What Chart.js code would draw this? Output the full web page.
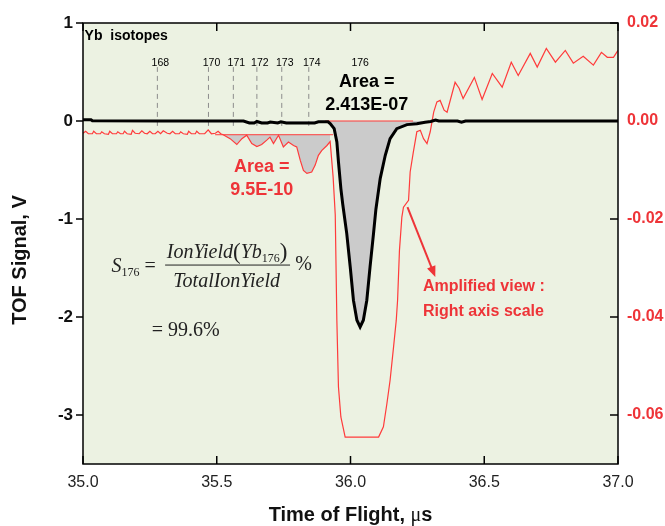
<!DOCTYPE html>
<html>
<head>
<meta charset="utf-8">
<script src="https://cdn.jsdelivr.net/npm/chart.js@4.4.1/dist/chart.umd.min.js"></script>
<style>
  body { margin: 0; background: #fff; }
  #wrap { width: 665px; height: 526px; position: relative; }
</style>
</head>
<body>
<div id="wrap"><canvas id="tofChart"></canvas></div>
<script>
// axes
const xTicks = [35.0, 35.5, 36.0, 36.5, 37.0];
const leftTicks = [1, 0, -1, -2, -3];
const rightTicks = [0.02, 0.00, -0.02, -0.04, -0.06];

// isotope markers (mass, arrival time in us)
const isotopeMasses = ['168', '170', '171', '172', '173', '174', '176'];
const isotopeTimes = [35.278, 35.469, 35.562, 35.650, 35.743, 35.844, 36.025];

// TOF signal, left axis (V)
const signalTime = [35.000, 35.030, 35.035, 35.300, 35.600, 35.622, 35.640, 35.650, 35.668, 35.690,
  35.700, 35.728, 35.740, 35.760, 35.772, 35.800, 35.840, 35.866, 35.880, 35.916,
  35.924, 35.939, 35.949, 35.955, 35.964, 35.971, 35.986, 35.999, 36.011, 36.024,
  36.036, 36.048, 36.061, 36.073, 36.086, 36.095, 36.111, 36.130, 36.148, 36.173,
  36.211, 36.248, 36.279, 36.300, 36.318, 36.330, 36.400, 36.415, 36.430, 36.600, 37.000];
const signalV = [0.012, 0.012, 0.002, 0.000, 0.000, -0.020, -0.020, -0.005, -0.020, -0.020,
  -0.010, -0.020, -0.008, -0.020, -0.020, -0.020, -0.020, -0.020, -0.008, -0.008,
  -0.027, -0.078, -0.214, -0.418, -0.690, -0.850, -1.149, -1.490, -1.829, -2.033,
  -2.102, -2.033, -1.829, -1.490, -1.149, -0.900, -0.588, -0.350, -0.180, -0.078,
  -0.037, -0.027, -0.012, -0.005, 0.010, 0.000, 0.000, -0.012, 0.000, 0.000, 0.000];

// amplified view, right axis (V)
const ampTime = [35.000, 35.010, 35.020, 35.035, 35.040, 35.050, 35.065, 35.070, 35.080, 35.095,
  35.100, 35.110, 35.125, 35.130, 35.140, 35.150, 35.155, 35.165, 35.180, 35.185,
  35.195, 35.210, 35.220, 35.230, 35.240, 35.250, 35.260, 35.270, 35.280, 35.290,
  35.300, 35.315, 35.325, 35.335, 35.345, 35.360, 35.365, 35.375, 35.390, 35.395,
  35.405, 35.420, 35.425, 35.435, 35.455, 35.468, 35.480, 35.495, 35.505, 35.515,
  35.524, 35.550, 35.575, 35.594, 35.612, 35.631, 35.650, 35.668, 35.687, 35.699,
  35.712, 35.731, 35.749, 35.768, 35.787, 35.799, 35.812, 35.824, 35.837, 35.855,
  35.868, 35.880, 35.893, 35.912, 35.924, 35.935, 35.943, 35.949, 35.955, 35.964,
  35.980, 36.105, 36.123, 36.136, 36.148, 36.161, 36.171, 36.176, 36.183, 36.192,
  36.198, 36.217, 36.223, 36.235, 36.248, 36.261, 36.273, 36.286, 36.298, 36.311,
  36.323, 36.335, 36.350, 36.361, 36.391, 36.406, 36.421, 36.463, 36.492, 36.530,
  36.567, 36.601, 36.627, 36.672, 36.698, 36.732, 36.766, 36.803, 36.833, 36.870,
  36.908, 36.938, 36.960, 36.983, 37.000];
const ampV = [-0.0025, -0.0021, -0.0026, -0.0026, -0.0021, -0.0026, -0.0026, -0.0022, -0.0026, -0.0027,
  -0.0021, -0.0026, -0.0026, -0.0022, -0.0026, -0.0026, -0.0021, -0.0026, -0.0027, -0.0019,
  -0.0025, -0.0026, -0.0020, -0.0025, -0.0026, -0.0021, -0.0026, -0.0026, -0.0021, -0.0026,
  -0.0020, -0.0025, -0.0026, -0.0021, -0.0026, -0.0026, -0.0022, -0.0026, -0.0027, -0.0021,
  -0.0026, -0.0026, -0.0021, -0.0026, -0.0026, -0.0018, -0.0026, -0.0025, -0.0021, -0.0026,
  -0.0028, -0.0036, -0.0048, -0.0036, -0.0029, -0.0046, -0.0052, -0.0048, -0.0039, -0.0033,
  -0.0046, -0.0029, -0.0053, -0.0043, -0.0050, -0.0053, -0.0080, -0.0101, -0.0107, -0.0104,
  -0.0090, -0.0070, -0.0060, -0.0050, -0.0042, -0.0114, -0.0192, -0.0407, -0.0543, -0.0604,
  -0.0645, -0.0645, -0.0624, -0.0577, -0.0529, -0.0461, -0.0407, -0.0366, -0.0264, -0.0196,
  -0.0176, -0.0162, -0.0104, -0.0063, -0.0022, -0.0019, -0.0036, -0.0046, -0.0022, 0.0018,
  0.0039, 0.0042, 0.0022, 0.0018, 0.0079, 0.0067, 0.0046, 0.0089, 0.0044, 0.0097,
  0.0069, 0.0120, 0.0093, 0.0138, 0.0110, 0.0148, 0.0120, 0.0144, 0.0118, 0.0132,
  0.0114, 0.0140, 0.0130, 0.0130, 0.0144];

// integration windows
const mainWindow = [35.905, 36.234];      // 176 peak, baseline 0 V
const minorWindow = [35.494, 35.935];     // other isotopes, baseline below
const minorBaseline = -0.0028;
const mainArea = '2.413E-07';
const minorArea = '9.5E-10';
const purity = '99.6%';

const RED = '#ff3b3b';
const TXT_RED = '#ee3438';
const SANS = '"Liberation Sans", Arial, sans-serif';
const SERIF = '"Liberation Serif", "Times New Roman", serif';

const signalPts = signalTime.map((t, i) => ({ x: t, y: signalV[i] }));
const ampPts = ampTime.map((t, i) => ({ x: t, y: ampV[i] }));
const minorFillPts = ampPts.filter(p => p.x >= 35.52 && p.x <= 35.925);

const isoLines = isotopeTimes.slice(0, 6).map(t => ({
  data: [{ x: t, y: -0.05 }, { x: t, y: 0.55 }],
  yAxisID: 'y',
  borderColor: '#8c8c8c',
  borderWidth: 1,
  borderDash: [5, 4],
  pointRadius: 0,
  fill: false,
  order: 9
}));

const decor = {
  id: 'decor',
  beforeDraw(chart) {
    const { ctx, chartArea: a } = chart;
    ctx.save();
    ctx.fillStyle = '#ecf2e2';
    ctx.fillRect(a.left, a.top, a.right - a.left, a.bottom - a.top);
    ctx.restore();
  },
  afterDatasetsDraw(chart) {
    const { ctx, scales } = chart;
    const px = v => scales.x.getPixelForValue(v);
    const py = v => scales.y.getPixelForValue(v);
    ctx.save();
    ctx.textBaseline = 'middle';

    ctx.fillStyle = '#000';
    ctx.textAlign = 'left';
    ctx.font = 'bold 14px ' + SANS;
    ctx.fillText('Yb  isotopes', px(35.006), py(0.864));

    ctx.textAlign = 'center';
    ctx.font = '10.5px ' + SANS;
    isotopeMasses.forEach((m, i) => ctx.fillText(m, px(isotopeTimes[i]) + 3, py(0.586)));

    ctx.font = 'bold 18px ' + SANS;
    ctx.fillText('Area =', px(36.061), py(0.398));
    ctx.fillText(mainArea, px(36.061), py(0.160));

    ctx.fillStyle = TXT_RED;
    ctx.fillText('Area =', px(35.668), py(-0.469));
    ctx.fillText(minorArea, px(35.668), py(-0.700));

    ctx.textAlign = 'left';
    ctx.font = 'bold 16px ' + SANS;
    ctx.fillText('Amplified view :', px(36.271), py(-1.694));
    ctx.fillText('Right axis scale', px(36.271), py(-1.949));

    // arrow
    const x0 = px(36.213), y0 = py(-0.878), x1 = px(36.317), y1 = py(-1.592);
    const ang = Math.atan2(y1 - y0, x1 - x0);
    ctx.strokeStyle = TXT_RED;
    ctx.lineWidth = 2;
    ctx.beginPath();
    ctx.moveTo(x0, y0);
    ctx.lineTo(x1 - 8 * Math.cos(ang), y1 - 8 * Math.sin(ang));
    ctx.stroke();
    ctx.beginPath();
    ctx.moveTo(x1, y1);
    ctx.lineTo(x1 - 11 * Math.cos(ang) + 4.5 * Math.sin(ang), y1 - 11 * Math.sin(ang) - 4.5 * Math.cos(ang));
    ctx.lineTo(x1 - 11 * Math.cos(ang) - 4.5 * Math.sin(ang), y1 - 11 * Math.sin(ang) + 4.5 * Math.cos(ang));
    ctx.closePath();
    ctx.fillStyle = TXT_RED;
    ctx.fill();

    // selectivity formula
    ctx.fillStyle = '#222';
    ctx.textBaseline = 'alphabetic';
    const it = 'italic 20px ' + SERIF, up = '20px ' + SERIF, sub = '12px ' + SERIF, par = '23px ' + SERIF;
    const runs = (x, y, parts) => {
      parts.forEach(([t, f, dy]) => {
        ctx.font = f;
        ctx.fillText(t, x, y + (dy || 0));
        x += ctx.measureText(t).width;
      });
      return x;
    };
    runs(px(35.107), py(-1.540), [['S', it], ['176', sub, 4], [' =', up]]);
    runs(px(35.313), py(-1.400), [['IonYield', it], ['(', par, 1], ['Yb', it], ['176', sub, 4], [')', par, 1]]);
    ctx.font = it;
    ctx.textAlign = 'center';
    ctx.fillText('TotalIonYield', px(35.537), py(-1.690));
    ctx.textAlign = 'left';
    ctx.font = up;
    ctx.fillText('%', px(35.793), py(-1.520));
    ctx.fillText('= ' + purity, px(35.257), py(-2.194));
    ctx.strokeStyle = '#222';
    ctx.lineWidth = 1;
    ctx.beginPath();
    ctx.moveTo(px(35.307), py(-1.470));
    ctx.lineTo(px(35.774), py(-1.470));
    ctx.stroke();
    ctx.restore();
  },
  afterDraw(chart) {
    const { ctx, chartArea: a, scales } = chart;
    const seg = (x0, y0, x1, y1) => { ctx.beginPath(); ctx.moveTo(x0, y0); ctx.lineTo(x1, y1); ctx.stroke(); };
    ctx.save();
    ctx.strokeStyle = '#000';
    ctx.lineWidth = 1.5;
    ctx.strokeRect(a.left, a.top, a.right - a.left, a.bottom - a.top);
    leftTicks.forEach(v => { const p = scales.y.getPixelForValue(v); seg(a.left - 7, p, a.left, p); });
    rightTicks.forEach(v => { const p = scales.y1.getPixelForValue(v); seg(a.right - 8, p, a.right, p); });
    xTicks.forEach(v => {
      const p = scales.x.getPixelForValue(v);
      seg(p, a.bottom, p, a.bottom - 8);
      seg(p, a.top, p, a.top + 8);
    });

    // axis titles
    ctx.fillStyle = '#111';
    ctx.font = 'bold 20px ' + SANS;
    ctx.textBaseline = 'middle';
    ctx.textAlign = 'center';
    ctx.save();
    ctx.translate(20, 260);
    ctx.rotate(-Math.PI / 2);
    ctx.fillText('TOF Signal, V', 0, 0);
    ctx.restore();

    ctx.textBaseline = 'alphabetic';
    ctx.textAlign = 'left';
    const parts = [['Time of Flight, ', 'bold 20px ' + SANS], ['\u03bc', '20px ' + SERIF], ['s', 'bold 20px ' + SANS]];
    let w = 0;
    parts.forEach(([t, f]) => { ctx.font = f; w += ctx.measureText(t).width; });
    let x = (a.left + a.right) / 2 - w / 2;
    parts.forEach(([t, f]) => { ctx.font = f; ctx.fillText(t, x, 521); x += ctx.measureText(t).width; });
    ctx.restore();
  }
};

new Chart(document.getElementById('tofChart'), {
  type: 'line',
  data: {
    datasets: [
      {
        data: signalPts,
        yAxisID: 'y',
        borderColor: '#000',
        borderWidth: 3,
        backgroundColor: '#cbcbcb',
        fill: 'origin',
        pointRadius: 0,
        tension: 0,
        order: 1
      },
      {
        data: [{ x: mainWindow[0], y: 0 }, { x: mainWindow[1], y: 0 }],
        yAxisID: 'y',
        borderColor: RED,
        borderWidth: 1,
        pointRadius: 0,
        fill: false,
        order: 4
      },
      {
        data: [{ x: minorWindow[0], y: minorBaseline }, { x: minorWindow[1], y: minorBaseline }],
        yAxisID: 'y1',
        borderColor: RED,
        borderWidth: 1,
        pointRadius: 0,
        fill: false,
        order: 4
      },
      {
        data: ampPts,
        yAxisID: 'y1',
        borderColor: RED,
        borderWidth: 1.2,
        pointRadius: 0,
        tension: 0,
        fill: false,
        order: 5
      },
      {
        data: minorFillPts,
        yAxisID: 'y1',
        borderWidth: 0,
        borderColor: 'rgba(0,0,0,0)',
        backgroundColor: '#cbcbcb',
        fill: { value: minorBaseline },
        pointRadius: 0,
        tension: 0,
        order: 10
      },
      ...isoLines
    ]
  },
  options: {
    responsive: true,
    maintainAspectRatio: false,
    animation: false,
    layout: { padding: { top: 23, left: 0, right: 0, bottom: 0 } },
    scales: {
      x: {
        type: 'linear',
        min: 35,
        max: 37,
        afterBuildTicks: s => { s.ticks = xTicks.map(v => ({ value: v })); },
        afterFit: s => { s.height = 62; },
        grid: { display: false, drawTicks: false },
        border: { display: false },
        ticks: {
          padding: 9,
          color: '#222',
          font: { family: SANS, size: 16 },
          callback: v => v.toFixed(1)
        }
      },
      y: {
        position: 'left',
        min: -3.5,
        max: 1,
        afterBuildTicks: s => { s.ticks = leftTicks.map(v => ({ value: v })); },
        afterFit: s => { s.width = 83; },
        grid: { display: false, drawTicks: false },
        border: { display: false },
        ticks: {
          padding: 10,
          color: '#111',
          font: { family: SANS, size: 17, weight: 'bold' },
          callback: v => String(v)
        }
      },
      y1: {
        position: 'right',
        min: -0.07,
        max: 0.02,
        afterBuildTicks: s => { s.ticks = rightTicks.map(v => ({ value: v })); },
        afterFit: s => { s.width = 47; },
        grid: { display: false, drawTicks: false },
        border: { display: false },
        ticks: {
          padding: 9,
          color: TXT_RED,
          font: { family: SANS, size: 16, weight: 'bold' },
          callback: v => v.toFixed(2)
        }
      }
    },
    plugins: {
      legend: { display: false },
      tooltip: { enabled: false },
      filler: { drawTime: 'beforeDatasetsDraw' }
    }
  },
  plugins: [decor]
});
</script>
</body>
</html>
